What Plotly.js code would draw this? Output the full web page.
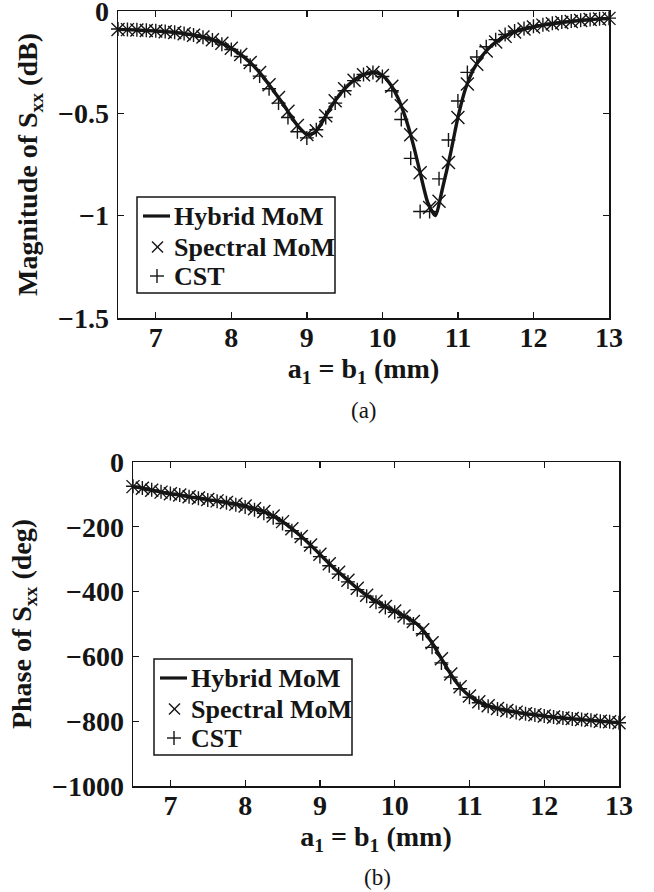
<!DOCTYPE html>
<html>
<head>
<meta charset="utf-8">
<script src="https://cdn.plot.ly/plotly-3.0.1.min.js"></script>
<style>html,body{margin:0;padding:0;background:#fff;}#chart{width:654px;height:892px;}</style>
</head>
<body>
<div id="chart"></div>
<script>
// ---------- data ----------
var xLine = [6.5,6.6,6.7,6.8,6.9,7.0,7.1,7.2,7.3,7.4,7.5,7.6,7.7,7.8,7.9,8.0,
  8.1,8.2,8.3,8.4,8.5,8.6,8.7,8.8,8.9,9.0,9.1,9.2,9.3,9.4,9.5,9.6,9.7,9.8,9.9,10.0,
  10.1,10.2,10.3,10.4,10.5,10.6,10.7,10.8,10.9,11.0,11.1,11.2,11.3,11.4,11.5,11.6,11.7,11.8,11.9,12.0,
  12.1,12.2,12.3,12.4,12.5,12.6,12.7,12.8,12.9,13.0];

var xMarkers = [6.5,6.625,6.75,6.875,7,7.125,7.25,7.375,7.5,7.625,7.75,7.875,8,
  8.125,8.25,8.375,8.5,8.625,8.75,8.875,9,9.125,9.25,9.375,9.5,9.625,9.75,9.875,10,
  10.125,10.25,10.375,10.5,10.625,10.75,10.875,11,11.125,11.25,11.375,11.5,11.625,11.75,11.875,12,
  12.125,12.25,12.375,12.5,12.625,12.75,12.875,13];

var magHybrid = [-0.090,-0.091,-0.092,-0.094,-0.096,-0.098,
  -0.100,-0.103,-0.107,-0.112,-0.118,-0.125,-0.134,-0.146,-0.162,-0.182,
  -0.206,-0.235,-0.270,-0.312,-0.360,-0.410,-0.462,-0.520,-0.570,-0.603,
  -0.595,-0.545,-0.480,-0.425,-0.380,-0.345,-0.320,-0.305,-0.300,-0.315,
  -0.355,-0.420,-0.515,-0.640,-0.790,-0.935,-1.000,-0.860,-0.700,-0.520,
  -0.380,-0.290,-0.230,-0.185,-0.152,-0.128,-0.110,-0.096,-0.086,-0.078,
  -0.071,-0.065,-0.060,-0.055,-0.051,-0.047,-0.044,-0.041,-0.038,-0.036];

var magSpectral = [-0.090,-0.091,-0.093,-0.095,-0.098,-0.101,-0.105,-0.111,-0.118,-0.127,-0.140,-0.158,-0.182,
  -0.213,-0.252,-0.301,-0.360,-0.423,-0.490,-0.560,-0.603,-0.585,-0.512,-0.438,-0.380,-0.338,-0.312,-0.300,-0.315,
  -0.368,-0.463,-0.605,-0.790,-0.960,-0.930,-0.740,-0.520,-0.357,-0.260,-0.195,-0.152,-0.124,-0.103,-0.088,-0.078,
  -0.069,-0.062,-0.056,-0.051,-0.046,-0.042,-0.039,-0.036];

var magCST = [-0.088,-0.090,-0.092,-0.094,-0.097,-0.100,-0.104,-0.110,-0.117,-0.128,-0.142,-0.162,-0.188,
  -0.222,-0.265,-0.318,-0.380,-0.450,-0.520,-0.590,-0.620,-0.580,-0.520,-0.450,-0.390,-0.340,-0.310,-0.300,-0.320,
  -0.390,-0.530,-0.720,-0.980,-0.980,-0.820,-0.630,-0.440,-0.300,-0.225,-0.175,-0.140,-0.115,-0.098,-0.085,-0.075,
  -0.067,-0.060,-0.054,-0.049,-0.045,-0.041,-0.038,-0.035];

var phaseHybrid = [-76,-80,-85,-89,-94,-98,
  -101,-105,-109,-112,-116,-119,-123,-127,-131,-136,
  -142,-149,-158,-170,-184,-201,-220,-240,-262,-285,
  -308,-330,-350,-370,-390,-407,-423,-437,-449,-460,
  -472,-485,-500,-525,-558,-597,-636,-672,-701,-722,
  -737,-748,-756,-762,-767,-771,-775,-778,-781,-784,
  -787,-789,-791,-793,-795,-797,-799,-801,-803,-805];

var phaseSpectral = [-76,-81,-87,-93,-98,-102,-107,-111,-116,-120,-125,-130,-136,
  -144,-153,-167,-184,-206,-230,-256,-285,-314,-340,-365,-390,-411,-430,-446,-460,
  -475,-492,-518,-558,-607,-654,-694,-722,-740,-752,-761,-767,-772,-777,-780,-784,
  -787,-790,-792,-795,-797,-800,-802,-805];

var phaseCST = [-75,-80,-86,-92,-97,-102,-107,-112,-117,-121,-126,-132,-139,
  -147,-158,-172,-190,-212,-237,-263,-292,-320,-346,-370,-394,-414,-433,-449,-464,
  -480,-500,-530,-572,-620,-664,-700,-726,-743,-754,-762,-768,-773,-777,-781,-784,
  -787,-790,-793,-795,-797,-800,-802,-805];

var seriesNames = ['Hybrid MoM', 'Spectral MoM', 'CST'];
var magTitle = 'Magnitude of S<sub>xx</sub> (dB)';
var phaseTitle = 'Phase of S<sub>xx</sub> (deg)';
var xTitle = 'a<sub>1</sub> = b<sub>1</sub> (mm)';
var captions = ['(a)', '(b)'];

// ---------- styling ----------
var W = 654, H = 892;
var INK = '#151515';
var FONT = '"Liberation Serif", "Times New Roman", Times, serif';
function px(x){ return x / W; }
function py(y){ return 1 - y / H; }

function lineTrace(x, y, xa, ya){
  return {x: x, y: y, xaxis: xa, yaxis: ya, mode: 'lines', name: seriesNames[0],
    line: {color: INK, width: 3.4, shape: 'spline', smoothing: 0.6}, showlegend: false, hoverinfo: 'skip'};
}
function xTrace(x, y, xa, ya){
  return {x: x, y: y, xaxis: xa, yaxis: ya, mode: 'markers', name: seriesNames[1], cliponaxis: false,
    marker: {symbol: 'x-thin-open', size: 13, color: INK, line: {color: INK, width: 1.4}}, showlegend: false};
}
function plusTrace(x, y, xa, ya){
  return {x: x, y: y, xaxis: xa, yaxis: ya, mode: 'markers', name: seriesNames[2], cliponaxis: false,
    marker: {symbol: 'cross-thin-open', size: 10, color: INK, line: {color: INK, width: 1.4}}, showlegend: false};
}

var traces = [
  xTrace(xMarkers, magSpectral, 'x', 'y'),
  plusTrace(xMarkers, magCST, 'x', 'y'),
  lineTrace(xLine, magHybrid, 'x', 'y'),
  xTrace(xMarkers, phaseSpectral, 'x2', 'y2'),
  plusTrace(xMarkers, phaseCST, 'x2', 'y2'),
  lineTrace(xLine, phaseHybrid, 'x2', 'y2')
];

var tickFont = {family: FONT, size: 28, color: INK, weight: 'bold'};
var titleFont = {family: FONT, size: 28, color: INK, weight: 'bold'};

function xAxis(domain, anchor){
  return {domain: domain, anchor: anchor, range: [6.5, 13], tick0: 7, dtick: 1,
    showgrid: false, zeroline: false, showline: true, linecolor: INK, linewidth: 1.5,
    mirror: 'ticks', ticks: 'inside', ticklen: 6, tickwidth: 1.3, tickcolor: INK,
    tickfont: tickFont, ticklabelstandoff: -6, ticklabeloverflow: 'allow',
    title: {text: xTitle, font: titleFont, standoff: 0}};
}
function yAxis(domain, anchor, range, dtick, title){
  return {domain: domain, anchor: anchor, range: range, dtick: dtick,
    showgrid: false, zeroline: false, showline: true, linecolor: INK, linewidth: 1.5,
    mirror: 'ticks', ticks: 'inside', ticklen: 6, tickwidth: 1.3, tickcolor: INK,
    tickfont: tickFont, ticklabelstandoff: 2, ticklabeloverflow: 'allow',
    title: {text: title, font: titleFont, standoff: 12}};
}

// manual legend (box, samples, labels)
var shapes = [], annotations = [];
function addLegend(dx, dy){
  shapes.push({type: 'rect', xref: 'paper', yref: 'paper',
    x0: px(137 + dx), x1: px(335 + dx), y0: py(197 + dy), y1: py(293 + dy),
    line: {color: INK, width: 1.5}, fillcolor: '#fff', layer: 'above'});
  shapes.push({type: 'line', xref: 'paper', yref: 'paper',
    x0: px(143 + dx), x1: px(170 + dx), y0: py(216 + dy), y1: py(216 + dy),
    line: {color: INK, width: 3.2}, layer: 'above'});
  var cx = 157.5 + dx, cy = 247 + dy, r = 5.5;
  shapes.push({type: 'line', xref: 'paper', yref: 'paper', x0: px(cx - r), x1: px(cx + r), y0: py(cy - r), y1: py(cy + r), line: {color: INK, width: 1.4}, layer: 'above'});
  shapes.push({type: 'line', xref: 'paper', yref: 'paper', x0: px(cx - r), x1: px(cx + r), y0: py(cy + r), y1: py(cy - r), line: {color: INK, width: 1.4}, layer: 'above'});
  var qx = 157 + dx, qy = 276 + dy, q = 7;
  shapes.push({type: 'line', xref: 'paper', yref: 'paper', x0: px(qx - q), x1: px(qx + q), y0: py(qy), y1: py(qy), line: {color: INK, width: 1.4}, layer: 'above'});
  shapes.push({type: 'line', xref: 'paper', yref: 'paper', x0: px(qx), x1: px(qx), y0: py(qy - q), y1: py(qy + q), line: {color: INK, width: 1.4}, layer: 'above'});
  var rows = [216, 247, 276];
  for (var i = 0; i < 3; i++){
    annotations.push({xref: 'paper', yref: 'paper', x: px(172 + dx), y: py(rows[i] + dy),
      xanchor: 'left', yanchor: 'middle', showarrow: false, text: seriesNames[i],
      font: {family: FONT, size: 26, color: INK, weight: 'bold'}});
  }
}
addLegend(0, 0);
addLegend(17, 462);

annotations.push({xref: 'paper', yref: 'paper', x: px(364), y: py(411), xanchor: 'center', yanchor: 'middle',
  showarrow: false, text: captions[0], font: {family: FONT, size: 23, color: INK}});
annotations.push({xref: 'paper', yref: 'paper', x: px(377), y: py(877), xanchor: 'center', yanchor: 'middle',
  showarrow: false, text: captions[1], font: {family: FONT, size: 23, color: INK}});

var layout = {
  width: W, height: H,
  margin: {l: 0, r: 0, t: 0, b: 0},
  paper_bgcolor: '#fff', plot_bgcolor: '#fff',
  showlegend: false,
  font: {family: FONT, color: INK},
  xaxis: xAxis([px(118), px(609)], 'y'),
  yaxis: yAxis([py(318), py(11)], 'x', [-1.5, 0], 0.5, magTitle),
  xaxis2: xAxis([px(133), px(619)], 'y2'),
  yaxis2: yAxis([py(786), py(462)], 'x2', [-1000, 0], 200, phaseTitle),
  shapes: shapes,
  annotations: annotations
};

Plotly.newPlot('chart', traces, layout, {displayModeBar: false, staticPlot: true});
</script>
</body>
</html>
